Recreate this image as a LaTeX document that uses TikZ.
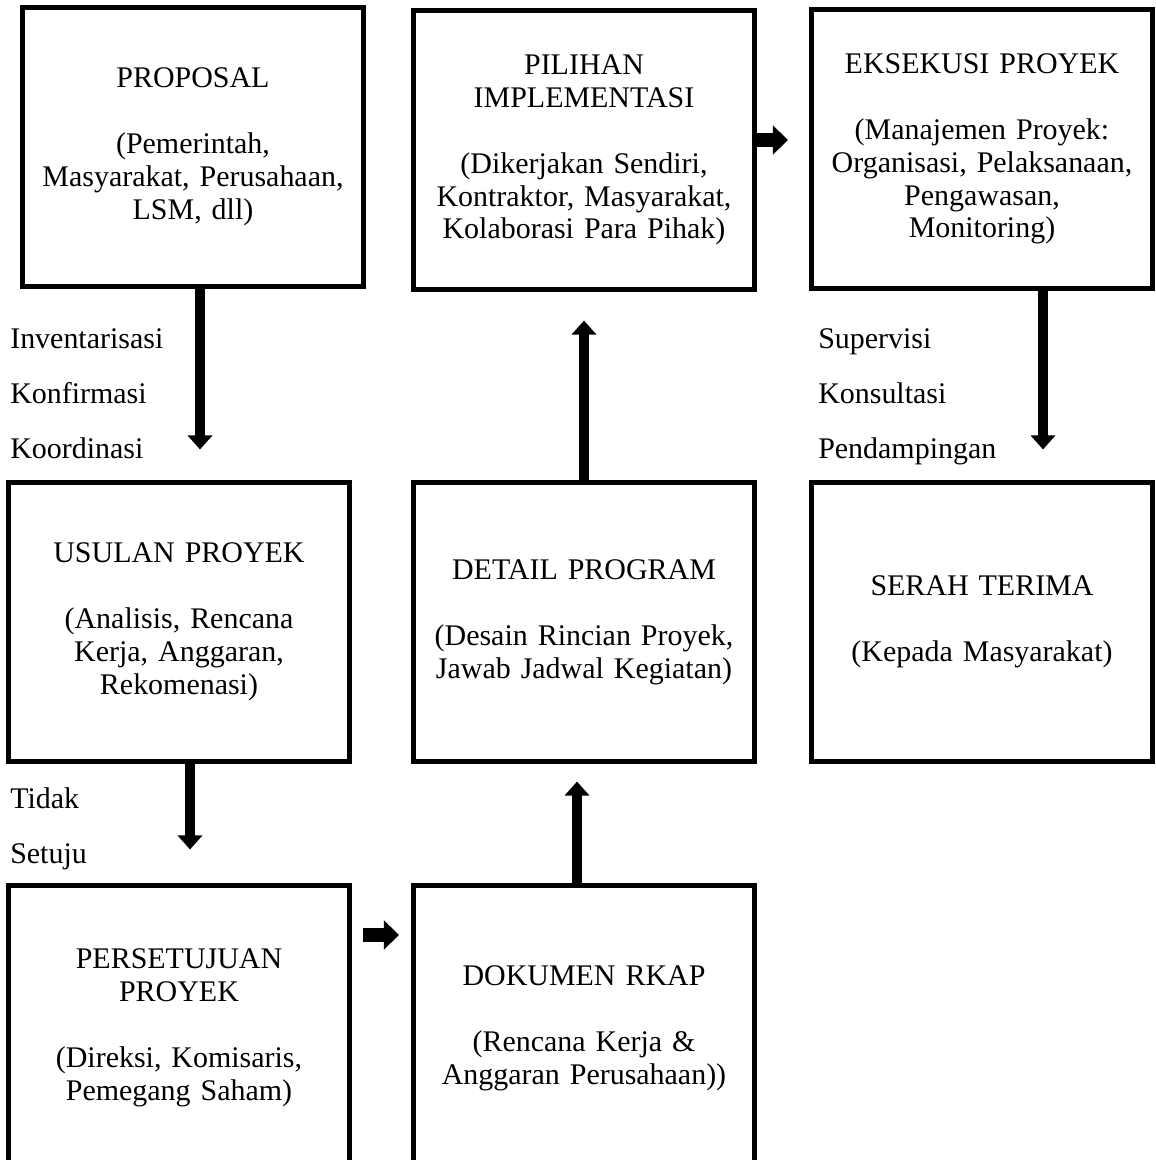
\documentclass[tikz,border=0pt]{standalone}
\usepackage{fontspec}
\setmainfont{Liberation Serif}
\usetikzlibrary{arrows.meta}

\begin{document}
\begin{tikzpicture}[x=0.025cm, y=-0.025cm,
  stage/.style={draw, line width=0.125cm, minimum width=8.525cm, minimum height=6.95cm,
    text width=8.3cm, align=center, inner sep=0pt, font=\fontsize{21.3}{23.4}\selectfont},
  note/.style={anchor=base west, inner sep=0pt, font=\fontsize{21.3}{23.4}\selectfont},
  vflow/.style={line width=0.25cm, -{Triangle[width=0.6cm, length=0.35cm]}},
  hflow/.style={line width=0.35cm, -{Triangle[width=0.72cm, length=0.38cm]}}]
  \useasboundingbox (0,0) rectangle (1156,1160);
  \clip (0,0) rectangle (1156,1160);
  % boxes
  \node[stage] (prop) at (193,147) {PROPOSAL\\[23.4pt](Pemerintah,\\Masyarakat, Perusahaan,\\LSM, dll)};
  \node[stage] (pil) at (584,150) {PILIHAN\\IMPLEMENTASI\\[23.4pt](Dikerjakan Sendiri,\\Kontraktor, Masyarakat,\\Kolaborasi Para Pihak)};
  \node[stage] (eks) at (982,149) {EKSEKUSI PROYEK\\[23.4pt](Manajemen Proyek:\\Organisasi, Pelaksanaan,\\Pengawasan,\\Monitoring)};
  \node[stage] (usul) at (179,622) {USULAN PROYEK\\[23.4pt](Analisis, Rencana\\Kerja, Anggaran,\\Rekomenasi)};
  \node[stage] (det) at (584,622) {DETAIL PROGRAM\\[23.4pt](Desain Rincian Proyek,\\Jawab Jadwal Kegiatan)};
  \node[stage] (serah) at (982,622) {SERAH TERIMA\\[23.4pt](Kepada Masyarakat)};
  \node[stage, minimum height=7.1cm] (pers) at (179,1028) {PERSETUJUAN\\PROYEK\\[23.4pt](Direksi, Komisaris,\\Pemegang Saham)};
  \node[stage, minimum height=7.1cm] (dok) at (584,1028) {DOKUMEN RKAP\\[23.4pt](Rencana Kerja \&\\Anggaran Perusahaan))};
  % side notes
  \node[note] (inv) at (10,348) {Inventarisasi};
  \node[note] (konf) at (10,403) {Konfirmasi};
  \node[note] (koor) at (10,458) {Koordinasi};
  \node[note] (tdk) at (10,808) {Tidak};
  \node[note] (stj) at (10,863) {Setuju};
  \node[note] (sup) at (818,348) {Supervisi};
  \node[note] (kons) at (818,403) {Konsultasi};
  \node[note] (pend) at (818,458) {Pendampingan};
  % arrows
  \coordinate (a1) at ([xshift=0.175cm]prop.south);
  \coordinate (a2) at ([xshift=0.275cm]usul.south);
  \coordinate (a3) at ([yshift=2.325cm]pers.east);
  \coordinate (a4) at ([xshift=-0.175cm]dok.north);
  \coordinate (a6) at ([yshift=0.25cm]pil.east);
  \coordinate (a7) at ([xshift=1.525cm]eks.south);
  \draw[vflow, shorten >=0.775cm] (a1) -- (a1 |- usul.north);
  \draw[vflow, shorten >=0.85cm] (a2) -- (a2 |- pers.north);
  \draw[hflow, shorten <=0.275cm, shorten >=0.3cm] (a3) -- (a3 -| dok.west);
  \draw[vflow, shorten >=0.45cm] (a4) -- (a4 |- det.south);
  \draw[vflow, shorten >=0.725cm] (det.north) -- (pil.south);
  \draw[hflow, shorten >=0.525cm] (a6) -- (a6 -| eks.west);
  \draw[vflow, shorten >=0.775cm] (a7) -- (a7 |- serah.north);
\end{tikzpicture}
\end{document}
